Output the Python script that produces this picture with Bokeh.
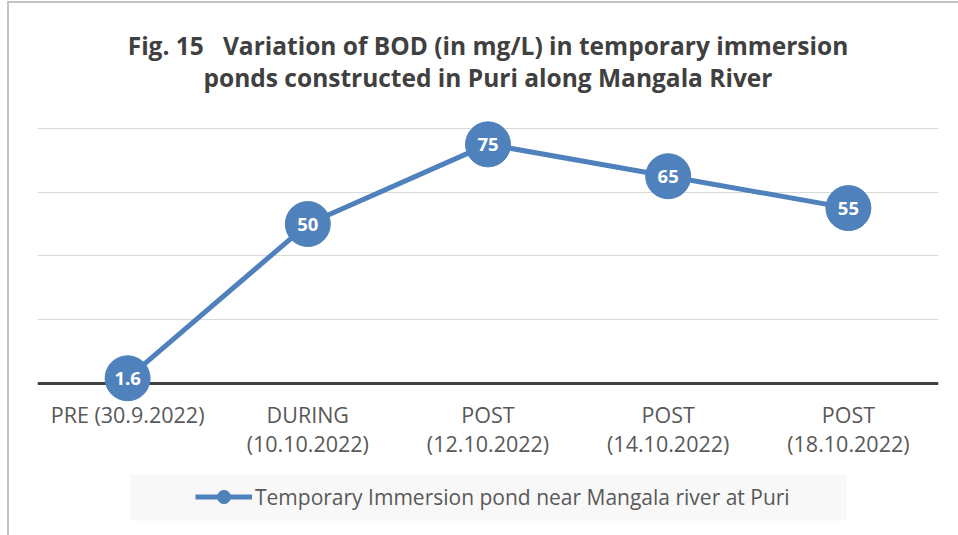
from bokeh.plotting import figure
from bokeh.layouts import column
from bokeh.models import (ColumnDataSource, FactorRange, Range1d, FixedTicker, Span,
                          Label, LabelSet, Legend, LegendItem, BoxAnnotation)
from bokeh.core.properties import value
from bokeh.embed import file_html
from bokeh.resources import INLINE

categories = ["PRE (30.9.2022)", "DURING\n(10.10.2022)", "POST\n(12.10.2022)",
              "POST\n(14.10.2022)", "POST\n(18.10.2022)"]
bod_values = [1.6, 50, 75, 65, 55]
y_ticks = [0, 20, 40, 60, 80]
series_name = "Temporary Immersion pond near Mangala river at Puri"
title_lines = ["Fig. 15\u00a0\u00a0\u00a0Variation of BOD (in mg/L) in temporary immersion",
               "ponds constructed in Puri along Mangala River"]

FONT = "Open Sans"
BLUE = "#4F81BD"
LEG_BG = "#F8F8F8"
BORDER = "#C4C4C4"

src = ColumnDataSource(dict(x=categories, y=bod_values,
                            lbl=[f"{v:g}" for v in bod_values]))

# ---------------- main chart ----------------
p = figure(width=949, height=467, output_backend="svg", toolbar_location=None,
           x_range=FactorRange(*categories, range_padding=0),
           y_range=Range1d(-6, 119.2), y_axis_location=None,
           min_border_left=28, min_border_right=20, min_border_top=0,
           min_border_bottom=68, outline_line_color=None)
p.background_fill_color = "white"
p.border_fill_color = "white"

p.xgrid.grid_line_color = None
p.ygrid.ticker = FixedTicker(ticks=y_ticks)
p.ygrid.grid_line_color = "#D9D9D9"
p.ygrid.grid_line_width = 1

base = Span(location=0, dimension="width", line_color="#404040", line_width=3, level="underlay")
p.add_layout(base)

p.xaxis.axis_line_color = None
p.xaxis.major_tick_line_color = None
p.xaxis.minor_tick_line_color = None
p.xaxis.major_tick_out = 0
p.xaxis.major_tick_in = 0
p.xaxis.major_label_text_font = FONT
p.xaxis.major_label_text_font_size = "21.5px"
p.xaxis.major_label_text_color = "#595959"
p.xaxis.major_label_standoff = -3
p.xaxis.major_label_text_line_height = 1.0

ln = p.line("x", "y", source=src, line_color=BLUE, line_width=5)
sc = p.scatter("x", "y", source=src, size=45, fill_color=BLUE, line_color=BLUE)

labels = LabelSet(x="x", y="y", text="lbl", source=src, text_color="white",
                  text_font=value(FONT), text_font_style="bold", text_font_size="18.5px",
                  text_align="center", text_baseline="middle")
p.add_layout(labels)

# title (inside the frame, data coordinates)
for t, yy in zip(title_lines, [106.0, 96.0]):
    p.add_layout(Label(x=2.5, y=yy, text=t,
                       text_font=FONT, text_font_style="bold", text_font_size="24.5px",
                       text_color="#404040", text_align="center", text_baseline="middle"))

# ---------------- legend strip ----------------
lg = figure(width=949, height=65, output_backend="svg", toolbar_location=None,
            x_range=FactorRange(*categories, range_padding=0),
            y_range=Range1d(1000, 1001), x_axis_location=None, y_axis_location=None,
            min_border=0, outline_line_color=None)
lg.xgrid.visible = False
lg.ygrid.visible = False
lg.background_fill_color = "white"
lg.border_fill_color = "white"

lln = lg.line("x", "y", source=src, line_color=BLUE, line_width=5)
lsc = lg.scatter("x", "y", source=src, size=45, fill_color=BLUE, line_color=BLUE)

lg.add_layout(BoxAnnotation(left=93, right=809, bottom=15, top=61,
                            left_units="screen", right_units="screen",
                            bottom_units="screen", top_units="screen",
                            fill_color=LEG_BG, fill_alpha=1, line_color=None,
                            level="underlay"))

legend = Legend(items=[LegendItem(label=series_name, renderers=[lln, lsc])],
                location=(158, 22), padding=0, margin=0, spacing=0,
                glyph_width=57, glyph_height=33, label_height=33, label_standoff=3,
                label_text_font=FONT, label_text_font_size="21px",
                label_text_color="#595959", background_fill_alpha=0,
                border_line_color=None)
lg.add_layout(legend)

layout = column(p, lg, spacing=0,
                styles={"margin-left": "7px", "margin-top": "1px",
                        "border-left": f"2px solid {BORDER}",
                        "border-top": f"2px solid {BORDER}"})
open("out.html", "w").write(file_html(layout, INLINE))
